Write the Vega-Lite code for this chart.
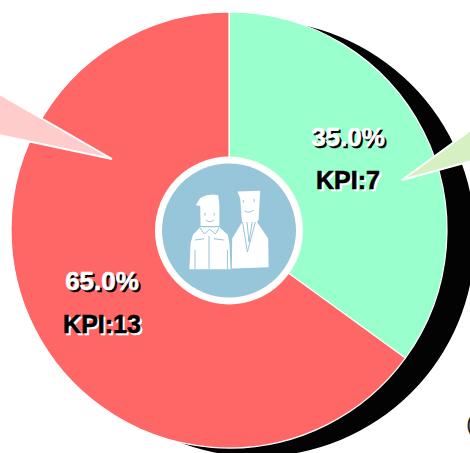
{
"$schema":"https://vega.github.io/schema/vega-lite/v6.json",
"width":470,"height":453,"padding":0,"autosize":{"type":"none"},
"background":"white",
"view":{"stroke":null},
"data":{"values":[{"segment":"35.0%","value":7,"kpi":"KPI:7"},{"segment":"65.0%","value":13,"kpi":"KPI:13"}]},
"layer":[
{"data":{"values":[{"part":"shadow"}]},"mark":{"type":"point","shape":"circle","filled":true,"color":"#030303","opacity":1,"size":190096,"xOffset":22,"yOffset":12},"encoding":{}},
{"mark":{"type":"arc","outerRadius":218,"stroke":"#ffffff","strokeWidth":1.2,"xOffset":-6,"yOffset":3.5},
 "encoding":{"theta":{"field":"value","type":"quantitative"},"color":{"field":"segment","type":"nominal","legend":null,"scale":{"domain":["35.0%","65.0%"],"range":["#99ffcc","#ff6666"]}}}},
{"data":{"values":[{"part":"left callout"}]},"mark":{"type":"point","filled":true,"opacity":1,"fill":"#ffcccc","stroke":"#ffffff","strokeWidth":2,"size":40000,"xOffset":-6,"yOffset":3.5,"shape":"M-1.17,-0.71 L-2.35,-1.39 L-2.35,-0.96 Z"},"encoding":{}},
{"data":{"values":[{"part":"right callout"}]},"mark":{"type":"point","filled":true,"opacity":1,"fill":"#d6f0c2","stroke":"#ffffff","strokeWidth":2,"size":40000,"xOffset":-6,"yOffset":3.5,"shape":"M1.73,-0.5 L2.5,-1.06 L2.5,-0.71 Z"},"encoding":{}},
{"data":{"values":[{"part":"ring"}]},"mark":{"type":"point","shape":"circle","filled":true,"opacity":1,"color":"#ffffff","size":21904,"xOffset":-6,"yOffset":4},"encoding":{}},
{"data":{"values":[{"part":"disc"}]},"mark":{"type":"point","shape":"circle","filled":true,"opacity":1,"color":"#97c5da","size":17956,"xOffset":-6,"yOffset":4},"encoding":{}},
{"data":{"values":[{"part":"people"}]},"mark":{"type":"point","filled":true,"opacity":1,"fill":"#ffffff","strokeWidth":0,"size":6400,"xOffset":-6,"yOffset":3.5,
 "shape":"M-0.83,-0.62 L-0.72,-0.8 Q-0.5,-0.92 -0.27,-0.87 L-0.24,-0.62 L-0.24,-0.1 L-0.71,-0.1 L-0.72,-0.6 Z M-0.72,-0.07 L-0.24,-0.07 L-0.03,0.12 L0.01,0.33 L0.04,0.98 L-0.99,0.98 L-0.96,0.33 L-0.9,0.12 Z M0.21,-0.96 L0.78,-0.98 L0.74,-0.25 L0.7,-0.2 L0.98,0.21 L0.99,0.93 L0.07,0.96 L0.08,0.21 L0.33,-0.2 L0.32,-0.25 L0.28,-0.79 Z"},"encoding":{}},
{"data":{"values":[{"part":"people lines"}]},"mark":{"type":"point","filled":false,"opacity":1,"stroke":"#97c5da","strokeWidth":1,"size":6400,"xOffset":-6,"yOffset":3.5,
 "shape":"M-0.6,-0.43 L-0.6,-0.36 M-0.37,-0.43 L-0.37,-0.36 M-0.58,-0.25 Q-0.48,-0.17 -0.38,-0.25 M-0.5,0.15 L-0.5,0.98 M-0.72,-0.05 L-0.62,0.1 L-0.48,-0.02 L-0.34,0.1 L-0.25,-0.05 M-0.85,0.25 L-0.63,0.22 M-0.38,0.22 L-0.13,0.25 M-0.85,0.5 L-0.85,0.98 M-0.04,0.5 L-0.04,0.98 M0.36,-0.75 L0.36,-0.68 M0.63,-0.78 L0.63,-0.7 M0.38,-0.48 Q0.5,-0.4 0.62,-0.5 M0.34,-0.2 L0.46,0.55 L0.66,-0.2 M0.45,-0.2 L0.5,0.3 L0.58,-0.2"},"encoding":{}},
{"mark":{"type":"text","font":"Liberation Sans","fontWeight":"bold","fontSize":26,"color":"#000000","stroke":"#000000","strokeWidth":0.6,"dx":2,"dy":2},
 "encoding":{"text":{"field":"segment"},"x":{"field":"segment","type":"nominal","axis":null,"scale":{"type":"point","padding":0,"domain":["35.0%","65.0%"],"range":[348,102]}},"y":{"field":"segment","type":"nominal","axis":null,"scale":{"type":"point","padding":0,"domain":["35.0%","65.0%"],"range":[138,282]}}}},
{"mark":{"type":"text","font":"Liberation Sans","fontWeight":"bold","fontSize":26,"color":"#ffffff","stroke":"#ffffff","strokeWidth":0.6},
 "encoding":{"text":{"field":"segment"},"x":{"field":"segment","type":"nominal","axis":null},"y":{"field":"segment","type":"nominal","axis":null}}},
{"mark":{"type":"text","font":"Liberation Sans","fontWeight":"bold","fontSize":25,"color":"#ffffff","stroke":"#ffffff","strokeWidth":0.6,"dx":2,"dy":45},
 "encoding":{"text":{"field":"kpi"},"x":{"field":"segment","type":"nominal","axis":null},"y":{"field":"segment","type":"nominal","axis":null}}},
{"mark":{"type":"text","font":"Liberation Sans","fontWeight":"bold","fontSize":25,"color":"#000000","stroke":"#000000","strokeWidth":0.6,"dy":43},
 "encoding":{"text":{"field":"kpi"},"x":{"field":"segment","type":"nominal","axis":null},"y":{"field":"segment","type":"nominal","axis":null}}},
{"data":{"values":[{"glyph":"("}]},"mark":{"type":"text","font":"Liberation Sans","fontSize":22,"color":"#222222","xOffset":235,"yOffset":197},"encoding":{"text":{"field":"glyph"}}}
]
}
